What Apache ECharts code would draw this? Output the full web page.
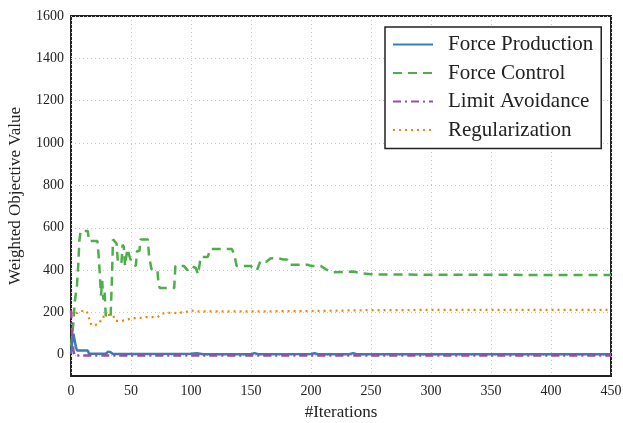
<!DOCTYPE html>
<html>
<head>
<meta charset="utf-8">
<script src="https://cdn.jsdelivr.net/npm/echarts@6/dist/echarts.min.js"></script>
<style>
html,body{margin:0;padding:0;background:#fff;}
#chart{width:623px;height:423px;}
</style>
</head>
<body>
<div id="chart"></div>
<script>
const seriesNames = ['Force Production', 'Force Control', 'Limit Avoidance', 'Regularization'];
const xTicks = [0, 50, 100, 150, 200, 250, 300, 350, 400, 450];
const yTicks = [0, 200, 400, 600, 800, 1000, 1200, 1400, 1600];

const forceProductionIter = [0, 1, 2, 3, 4, 5, 14, 15, 29, 31, 33, 35, 100, 105, 110, 150, 153, 156, 200, 203, 206, 232, 235, 238, 300, 450];
const forceProductionVal  = [5, 60, 100, 70, 40, 20, 20, 5, 5, 15, 12, 4, 5, 7, 3, 3, 8, 3, 4, 7, 3, 3, 8, 3, 3, 3];

const forceControlIter = [0, 2, 3, 5, 6, 7, 8, 14, 15, 22, 23, 24, 25, 26, 27, 28, 29, 33, 34, 35, 38, 39, 42, 43, 44, 45, 47, 49, 51, 54, 55, 57, 58, 64, 65, 67, 72, 73, 74, 86, 87, 94, 97, 100, 104, 106, 108, 114, 116, 134, 136, 138, 150, 152, 155, 158, 163, 166, 172, 177, 180, 182, 197, 200, 208, 212, 218, 235, 242, 250, 300, 350, 400, 450];
const forceControlVal  = [40, 150, 245, 330, 420, 540, 585, 585, 537, 537, 470, 380, 280, 350, 260, 300, 180, 180, 340, 545, 525, 440, 430, 520, 510, 420, 500, 460, 430, 420, 490, 490, 545, 545, 470, 405, 400, 330, 315, 315, 420, 420, 400, 420, 410, 380, 462, 462, 500, 500, 475, 420, 420, 405, 400, 445, 440, 455, 458, 450, 450, 425, 425, 420, 420, 405, 390, 393, 385, 380, 378, 378, 377, 377];

const limitAvoidanceIter = [0, 1, 2, 3, 450];
const limitAvoidanceVal  = [210, 100, 20, -3, -3];

const regularizationIter = [0, 2, 5, 8, 13, 15, 17, 20, 24, 25, 30, 35, 37, 42, 46, 51, 56, 62, 72, 76, 85, 89, 92, 95, 99, 105, 150, 200, 250, 300, 450];
const regularizationVal  = [195, 205, 197, 207, 207, 173, 140, 140, 150, 173, 188, 188, 160, 160, 165, 173, 173, 178, 178, 195, 200, 195, 200, 200, 210, 205, 205, 207, 211, 212, 212];

function zip(xs, ys) { return xs.map((x, i) => [x, ys[i]]); }

const colors = ['#377eb8', '#4daf4a', '#984ea3', '#ff7f00'];
const lineTypes = ['solid', [9, 6], [8, 4, 2, 4], [2, 4]];
const widths = [2.5, 2.5, 2.5, 2.2];
const dataSets = [
  zip(forceProductionIter, forceProductionVal),
  zip(forceControlIter, forceControlVal),
  zip(limitAvoidanceIter, limitAvoidanceVal),
  zip(regularizationIter, regularizationVal)
];

const FONT = '"Liberation Serif", "DejaVu Serif", serif';
const chart = echarts.init(document.getElementById('chart'), null, {renderer: 'canvas'});
chart.setOption({
  animation: false,
  backgroundColor: '#fff',
  grid: {left: 71, right: 12, top: 16, bottom: 47, outerBoundsMode: 'none', containLabel: false,
         show: true, borderColor: '#222', borderWidth: 2, backgroundColor: 'transparent'},
  legend: {
    orient: 'vertical',
    left: 385, top: 27,
    padding: [7, 8, 8, 7],
    itemWidth: 40, itemHeight: 14, itemGap: 7.5,
    backgroundColor: '#fff',
    borderColor: '#222', borderWidth: 1.5, borderRadius: 0,
    itemStyle: {opacity: 0},
    textStyle: {fontFamily: FONT, fontSize: 21, color: '#222', lineHeight: 14, padding: [0, 0, 0, 10]},
    data: seriesNames
  },
  xAxis: {
    type: 'value', min: 0, max: 450, interval: 50,
    name: '#Iterations', nameLocation: 'middle', nameGap: 28,
    nameTextStyle: {fontFamily: FONT, fontSize: 17, color: '#222'},
    axisLine: {show: false},
    axisTick: {show: false},
    axisLabel: {fontFamily: FONT, fontSize: 14, color: '#222', margin: 8, formatter: v => String(v)},
    splitLine: {show: true, lineStyle: {color: '#c8c8c8', type: [1, 3], width: 1}}
  },
  yAxis: {
    type: 'value', min: -100, max: 1600,
    name: 'Weighted Objective Value', nameLocation: 'middle', nameGap: 47,
    nameTextStyle: {fontFamily: FONT, fontSize: 17, color: '#222'},
    axisLine: {show: false},
    axisTick: {show: false, customValues: yTicks},
    axisLabel: {fontFamily: FONT, fontSize: 14, color: '#222', margin: 7, customValues: yTicks, formatter: v => String(v)},
    splitLine: {show: true, lineStyle: {color: '#c8c8c8', type: [1, 3], width: 1}}
  },
  series: seriesNames.map((n, i) => ({
    name: n, type: 'line', data: dataSets[i],
    symbol: 'none', showSymbol: false,
    color: colors[i],
    lineStyle: {color: colors[i], width: widths[i], type: lineTypes[i]},
    z: i === 0 ? 4 : (i === 2 ? 5 : 3)
  }))
});
</script>
</body>
</html>
